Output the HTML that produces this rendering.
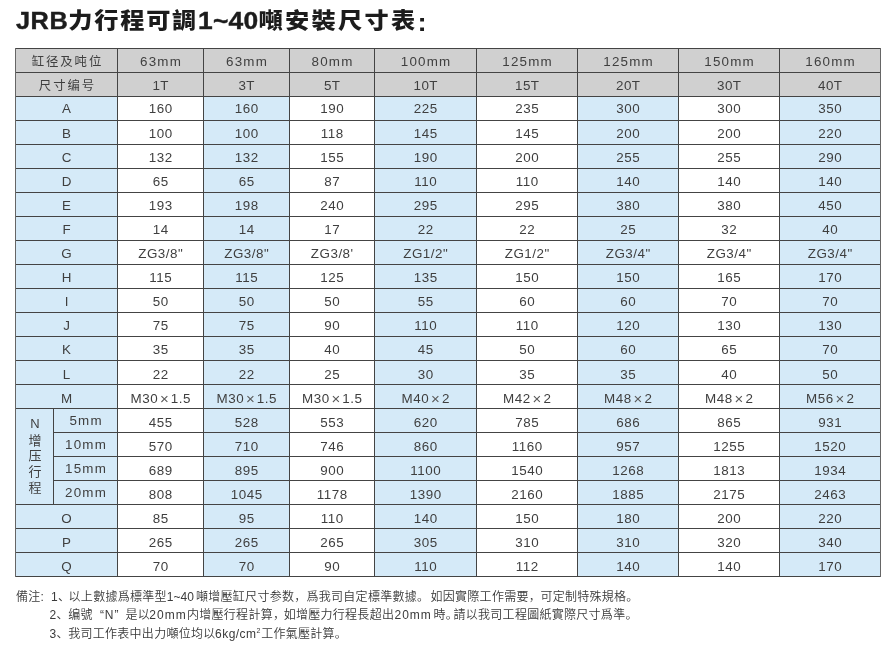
<!DOCTYPE html>
<html lang="zh"><head><meta charset="utf-8"><title>JRB</title>
<style>
html,body{margin:0;padding:0;background:#fff;}
body{width:892px;height:647px;position:relative;overflow:hidden;font-family:"Liberation Sans","Noto Sans CJK SC",sans-serif;color:#3f3f3f;}
.t{position:absolute;left:16px;top:5px;font-size:22px;font-weight:900;color:#1c1c1c;white-space:nowrap;line-height:30px;transform:scaleX(1.1);transform-origin:0 0;}
.t .l{font-size:23px;letter-spacing:0.5px;-webkit-text-stroke:0.4px #1c1c1c;}
.t .z{letter-spacing:1.6px;position:relative;top:-1px;}
.t .y{letter-spacing:2.1px;position:relative;top:-1px;}
.t .d{font-size:24px;letter-spacing:0.2px;-webkit-text-stroke:0.4px #1c1c1c;}
.t .q{position:relative;top:2px;left:0px;font-size:25px;}
.bg{position:absolute;}
.c{position:absolute;height:24px;line-height:25px;text-align:center;font-size:13.4px;white-space:nowrap;letter-spacing:0.5px;text-indent:0.5px;}
.k{font-size:12.4px;letter-spacing:1.9px;text-indent:1.9px;}
.m{letter-spacing:1.2px;text-indent:1.2px;}
.x{font-size:15px;line-height:0;position:relative;top:0.5px;margin:0 2.2px 0 1.8px;letter-spacing:0;color:#5a5a5a;}
.h{position:absolute;height:1px;background:#444;}
.v{position:absolute;width:1px;background:#444;}
.s{position:absolute;font-size:12px;line-height:18px;white-space:nowrap;letter-spacing:0.28px;color:#3a3a3a;font-weight:350;}
.e{letter-spacing:0;}
.f{letter-spacing:1px;}
.g{letter-spacing:0.45px;}
.nv{position:absolute;left:16px;width:38px;text-align:center;font-size:13px;line-height:16px;height:16px;}
sup{font-size:7px;line-height:0;vertical-align:5px;letter-spacing:0;}
</style></head><body>
<div class="t"><span class="l">JRB</span><span class="z">力行程可調</span><span class="d">1~40</span><span class="y">噸安裝尺寸表</span><span class="q">:</span></div>
<div class="bg" style="left:15px;top:48px;width:865px;height:48px;background:#d0d0d0"></div>
<div class="bg" style="left:15px;top:96px;width:102px;height:480px;background:#d5eaf8"></div>
<div class="bg" style="left:203px;top:96px;width:86px;height:480px;background:#d5eaf8"></div>
<div class="bg" style="left:374px;top:96px;width:102px;height:480px;background:#d5eaf8"></div>
<div class="bg" style="left:577px;top:96px;width:101px;height:480px;background:#d5eaf8"></div>
<div class="bg" style="left:779px;top:96px;width:101px;height:480px;background:#d5eaf8"></div>
<div class="c k" style="left:16px;top:50px;width:101px">缸径及吨位</div>
<div class="c m" style="left:118px;top:49px;width:85px">63mm</div>
<div class="c m" style="left:204px;top:49px;width:85px">63mm</div>
<div class="c m" style="left:290px;top:49px;width:84px">80mm</div>
<div class="c m" style="left:375px;top:49px;width:101px">100mm</div>
<div class="c m" style="left:477px;top:49px;width:100px">125mm</div>
<div class="c m" style="left:578px;top:49px;width:100px">125mm</div>
<div class="c m" style="left:679px;top:49px;width:100px">150mm</div>
<div class="c m" style="left:780px;top:49px;width:100px">160mm</div>
<div class="c k" style="left:16px;top:74px;width:101px">尺寸编号</div>
<div class="c" style="left:118px;top:73px;width:85px">1T</div>
<div class="c" style="left:204px;top:73px;width:85px">3T</div>
<div class="c" style="left:290px;top:73px;width:84px">5T</div>
<div class="c" style="left:375px;top:73px;width:101px">10T</div>
<div class="c" style="left:477px;top:73px;width:100px">15T</div>
<div class="c" style="left:578px;top:73px;width:100px">20T</div>
<div class="c" style="left:679px;top:73px;width:100px">30T</div>
<div class="c" style="left:780px;top:73px;width:100px">40T</div>
<div class="c" style="left:16px;top:96px;width:101px">A</div>
<div class="c" style="left:118px;top:96px;width:85px">160</div>
<div class="c" style="left:204px;top:96px;width:85px">160</div>
<div class="c" style="left:290px;top:96px;width:84px">190</div>
<div class="c" style="left:375px;top:96px;width:101px">225</div>
<div class="c" style="left:477px;top:96px;width:100px">235</div>
<div class="c" style="left:578px;top:96px;width:100px">300</div>
<div class="c" style="left:679px;top:96px;width:100px">300</div>
<div class="c" style="left:780px;top:96px;width:100px">350</div>
<div class="c" style="left:16px;top:121px;width:101px">B</div>
<div class="c" style="left:118px;top:121px;width:85px">100</div>
<div class="c" style="left:204px;top:121px;width:85px">100</div>
<div class="c" style="left:290px;top:121px;width:84px">118</div>
<div class="c" style="left:375px;top:121px;width:101px">145</div>
<div class="c" style="left:477px;top:121px;width:100px">145</div>
<div class="c" style="left:578px;top:121px;width:100px">200</div>
<div class="c" style="left:679px;top:121px;width:100px">200</div>
<div class="c" style="left:780px;top:121px;width:100px">220</div>
<div class="c" style="left:16px;top:145px;width:101px">C</div>
<div class="c" style="left:118px;top:145px;width:85px">132</div>
<div class="c" style="left:204px;top:145px;width:85px">132</div>
<div class="c" style="left:290px;top:145px;width:84px">155</div>
<div class="c" style="left:375px;top:145px;width:101px">190</div>
<div class="c" style="left:477px;top:145px;width:100px">200</div>
<div class="c" style="left:578px;top:145px;width:100px">255</div>
<div class="c" style="left:679px;top:145px;width:100px">255</div>
<div class="c" style="left:780px;top:145px;width:100px">290</div>
<div class="c" style="left:16px;top:169px;width:101px">D</div>
<div class="c" style="left:118px;top:169px;width:85px">65</div>
<div class="c" style="left:204px;top:169px;width:85px">65</div>
<div class="c" style="left:290px;top:169px;width:84px">87</div>
<div class="c" style="left:375px;top:169px;width:101px">110</div>
<div class="c" style="left:477px;top:169px;width:100px">110</div>
<div class="c" style="left:578px;top:169px;width:100px">140</div>
<div class="c" style="left:679px;top:169px;width:100px">140</div>
<div class="c" style="left:780px;top:169px;width:100px">140</div>
<div class="c" style="left:16px;top:193px;width:101px">E</div>
<div class="c" style="left:118px;top:193px;width:85px">193</div>
<div class="c" style="left:204px;top:193px;width:85px">198</div>
<div class="c" style="left:290px;top:193px;width:84px">240</div>
<div class="c" style="left:375px;top:193px;width:101px">295</div>
<div class="c" style="left:477px;top:193px;width:100px">295</div>
<div class="c" style="left:578px;top:193px;width:100px">380</div>
<div class="c" style="left:679px;top:193px;width:100px">380</div>
<div class="c" style="left:780px;top:193px;width:100px">450</div>
<div class="c" style="left:16px;top:217px;width:101px">F</div>
<div class="c" style="left:118px;top:217px;width:85px">14</div>
<div class="c" style="left:204px;top:217px;width:85px">14</div>
<div class="c" style="left:290px;top:217px;width:84px">17</div>
<div class="c" style="left:375px;top:217px;width:101px">22</div>
<div class="c" style="left:477px;top:217px;width:100px">22</div>
<div class="c" style="left:578px;top:217px;width:100px">25</div>
<div class="c" style="left:679px;top:217px;width:100px">32</div>
<div class="c" style="left:780px;top:217px;width:100px">40</div>
<div class="c" style="left:16px;top:241px;width:101px">G</div>
<div class="c" style="left:118px;top:241px;width:85px">ZG3/8&quot;</div>
<div class="c" style="left:204px;top:241px;width:85px">ZG3/8&quot;</div>
<div class="c" style="left:290px;top:241px;width:84px">ZG3/8'</div>
<div class="c" style="left:375px;top:241px;width:101px">ZG1/2&quot;</div>
<div class="c" style="left:477px;top:241px;width:100px">ZG1/2&quot;</div>
<div class="c" style="left:578px;top:241px;width:100px">ZG3/4&quot;</div>
<div class="c" style="left:679px;top:241px;width:100px">ZG3/4&quot;</div>
<div class="c" style="left:780px;top:241px;width:100px">ZG3/4&quot;</div>
<div class="c" style="left:16px;top:265px;width:101px">H</div>
<div class="c" style="left:118px;top:265px;width:85px">115</div>
<div class="c" style="left:204px;top:265px;width:85px">115</div>
<div class="c" style="left:290px;top:265px;width:84px">125</div>
<div class="c" style="left:375px;top:265px;width:101px">135</div>
<div class="c" style="left:477px;top:265px;width:100px">150</div>
<div class="c" style="left:578px;top:265px;width:100px">150</div>
<div class="c" style="left:679px;top:265px;width:100px">165</div>
<div class="c" style="left:780px;top:265px;width:100px">170</div>
<div class="c" style="left:16px;top:289px;width:101px">I</div>
<div class="c" style="left:118px;top:289px;width:85px">50</div>
<div class="c" style="left:204px;top:289px;width:85px">50</div>
<div class="c" style="left:290px;top:289px;width:84px">50</div>
<div class="c" style="left:375px;top:289px;width:101px">55</div>
<div class="c" style="left:477px;top:289px;width:100px">60</div>
<div class="c" style="left:578px;top:289px;width:100px">60</div>
<div class="c" style="left:679px;top:289px;width:100px">70</div>
<div class="c" style="left:780px;top:289px;width:100px">70</div>
<div class="c" style="left:16px;top:313px;width:101px">J</div>
<div class="c" style="left:118px;top:313px;width:85px">75</div>
<div class="c" style="left:204px;top:313px;width:85px">75</div>
<div class="c" style="left:290px;top:313px;width:84px">90</div>
<div class="c" style="left:375px;top:313px;width:101px">110</div>
<div class="c" style="left:477px;top:313px;width:100px">110</div>
<div class="c" style="left:578px;top:313px;width:100px">120</div>
<div class="c" style="left:679px;top:313px;width:100px">130</div>
<div class="c" style="left:780px;top:313px;width:100px">130</div>
<div class="c" style="left:16px;top:337px;width:101px">K</div>
<div class="c" style="left:118px;top:337px;width:85px">35</div>
<div class="c" style="left:204px;top:337px;width:85px">35</div>
<div class="c" style="left:290px;top:337px;width:84px">40</div>
<div class="c" style="left:375px;top:337px;width:101px">45</div>
<div class="c" style="left:477px;top:337px;width:100px">50</div>
<div class="c" style="left:578px;top:337px;width:100px">60</div>
<div class="c" style="left:679px;top:337px;width:100px">65</div>
<div class="c" style="left:780px;top:337px;width:100px">70</div>
<div class="c" style="left:16px;top:362px;width:101px">L</div>
<div class="c" style="left:118px;top:362px;width:85px">22</div>
<div class="c" style="left:204px;top:362px;width:85px">22</div>
<div class="c" style="left:290px;top:362px;width:84px">25</div>
<div class="c" style="left:375px;top:362px;width:101px">30</div>
<div class="c" style="left:477px;top:362px;width:100px">35</div>
<div class="c" style="left:578px;top:362px;width:100px">35</div>
<div class="c" style="left:679px;top:362px;width:100px">40</div>
<div class="c" style="left:780px;top:362px;width:100px">50</div>
<div class="c" style="left:16px;top:386px;width:101px">M</div>
<div class="c" style="left:118px;top:386px;width:85px">M30<span class="x">×</span>1.5</div>
<div class="c" style="left:204px;top:386px;width:85px">M30<span class="x">×</span>1.5</div>
<div class="c" style="left:290px;top:386px;width:84px">M30<span class="x">×</span>1.5</div>
<div class="c" style="left:375px;top:386px;width:101px">M40<span class="x">×</span>2</div>
<div class="c" style="left:477px;top:386px;width:100px">M42<span class="x">×</span>2</div>
<div class="c" style="left:578px;top:386px;width:100px">M48<span class="x">×</span>2</div>
<div class="c" style="left:679px;top:386px;width:100px">M48<span class="x">×</span>2</div>
<div class="c" style="left:780px;top:386px;width:100px">M56<span class="x">×</span>2</div>
<div class="c m" style="left:54px;top:408px;width:63px">5mm</div>
<div class="c" style="left:118px;top:410px;width:85px">455</div>
<div class="c" style="left:204px;top:410px;width:85px">528</div>
<div class="c" style="left:290px;top:410px;width:84px">553</div>
<div class="c" style="left:375px;top:410px;width:101px">620</div>
<div class="c" style="left:477px;top:410px;width:100px">785</div>
<div class="c" style="left:578px;top:410px;width:100px">686</div>
<div class="c" style="left:679px;top:410px;width:100px">865</div>
<div class="c" style="left:780px;top:410px;width:100px">931</div>
<div class="c m" style="left:54px;top:432px;width:63px">10mm</div>
<div class="c" style="left:118px;top:434px;width:85px">570</div>
<div class="c" style="left:204px;top:434px;width:85px">710</div>
<div class="c" style="left:290px;top:434px;width:84px">746</div>
<div class="c" style="left:375px;top:434px;width:101px">860</div>
<div class="c" style="left:477px;top:434px;width:100px">1160</div>
<div class="c" style="left:578px;top:434px;width:100px">957</div>
<div class="c" style="left:679px;top:434px;width:100px">1255</div>
<div class="c" style="left:780px;top:434px;width:100px">1520</div>
<div class="c m" style="left:54px;top:456px;width:63px">15mm</div>
<div class="c" style="left:118px;top:458px;width:85px">689</div>
<div class="c" style="left:204px;top:458px;width:85px">895</div>
<div class="c" style="left:290px;top:458px;width:84px">900</div>
<div class="c" style="left:375px;top:458px;width:101px">1100</div>
<div class="c" style="left:477px;top:458px;width:100px">1540</div>
<div class="c" style="left:578px;top:458px;width:100px">1268</div>
<div class="c" style="left:679px;top:458px;width:100px">1813</div>
<div class="c" style="left:780px;top:458px;width:100px">1934</div>
<div class="c m" style="left:54px;top:480px;width:63px">20mm</div>
<div class="c" style="left:118px;top:482px;width:85px">808</div>
<div class="c" style="left:204px;top:482px;width:85px">1045</div>
<div class="c" style="left:290px;top:482px;width:84px">1178</div>
<div class="c" style="left:375px;top:482px;width:101px">1390</div>
<div class="c" style="left:477px;top:482px;width:100px">2160</div>
<div class="c" style="left:578px;top:482px;width:100px">1885</div>
<div class="c" style="left:679px;top:482px;width:100px">2175</div>
<div class="c" style="left:780px;top:482px;width:100px">2463</div>
<div class="c" style="left:16px;top:506px;width:101px">O</div>
<div class="c" style="left:118px;top:506px;width:85px">85</div>
<div class="c" style="left:204px;top:506px;width:85px">95</div>
<div class="c" style="left:290px;top:506px;width:84px">110</div>
<div class="c" style="left:375px;top:506px;width:101px">140</div>
<div class="c" style="left:477px;top:506px;width:100px">150</div>
<div class="c" style="left:578px;top:506px;width:100px">180</div>
<div class="c" style="left:679px;top:506px;width:100px">200</div>
<div class="c" style="left:780px;top:506px;width:100px">220</div>
<div class="c" style="left:16px;top:530px;width:101px">P</div>
<div class="c" style="left:118px;top:530px;width:85px">265</div>
<div class="c" style="left:204px;top:530px;width:85px">265</div>
<div class="c" style="left:290px;top:530px;width:84px">265</div>
<div class="c" style="left:375px;top:530px;width:101px">305</div>
<div class="c" style="left:477px;top:530px;width:100px">310</div>
<div class="c" style="left:578px;top:530px;width:100px">310</div>
<div class="c" style="left:679px;top:530px;width:100px">320</div>
<div class="c" style="left:780px;top:530px;width:100px">340</div>
<div class="c" style="left:16px;top:554px;width:101px">Q</div>
<div class="c" style="left:118px;top:554px;width:85px">70</div>
<div class="c" style="left:204px;top:554px;width:85px">70</div>
<div class="c" style="left:290px;top:554px;width:84px">90</div>
<div class="c" style="left:375px;top:554px;width:101px">110</div>
<div class="c" style="left:477px;top:554px;width:100px">112</div>
<div class="c" style="left:578px;top:554px;width:100px">140</div>
<div class="c" style="left:679px;top:554px;width:100px">140</div>
<div class="c" style="left:780px;top:554px;width:100px">170</div>
<div class="nv" style="top:416px">N</div>
<div class="nv" style="top:433px">增</div>
<div class="nv" style="top:448px">压</div>
<div class="nv" style="top:464px">行</div>
<div class="nv" style="top:480px">程</div>
<div class="h" style="left:15px;top:48px;width:866px"></div>
<div class="h" style="left:15px;top:72px;width:866px"></div>
<div class="h" style="left:15px;top:96px;width:866px"></div>
<div class="h" style="left:15px;top:120px;width:866px"></div>
<div class="h" style="left:15px;top:144px;width:866px"></div>
<div class="h" style="left:15px;top:168px;width:866px"></div>
<div class="h" style="left:15px;top:192px;width:866px"></div>
<div class="h" style="left:15px;top:216px;width:866px"></div>
<div class="h" style="left:15px;top:240px;width:866px"></div>
<div class="h" style="left:15px;top:264px;width:866px"></div>
<div class="h" style="left:15px;top:288px;width:866px"></div>
<div class="h" style="left:15px;top:312px;width:866px"></div>
<div class="h" style="left:15px;top:336px;width:866px"></div>
<div class="h" style="left:15px;top:360px;width:866px"></div>
<div class="h" style="left:15px;top:384px;width:866px"></div>
<div class="h" style="left:15px;top:408px;width:866px"></div>
<div class="h" style="left:53px;top:432px;width:828px"></div>
<div class="h" style="left:53px;top:456px;width:828px"></div>
<div class="h" style="left:53px;top:480px;width:828px"></div>
<div class="h" style="left:15px;top:504px;width:866px"></div>
<div class="h" style="left:15px;top:528px;width:866px"></div>
<div class="h" style="left:15px;top:552px;width:866px"></div>
<div class="h" style="left:15px;top:576px;width:866px"></div>
<div class="v" style="left:15px;top:48px;height:529px;background:#666"></div>
<div class="v" style="left:117px;top:48px;height:529px"></div>
<div class="v" style="left:203px;top:48px;height:529px"></div>
<div class="v" style="left:289px;top:48px;height:529px"></div>
<div class="v" style="left:374px;top:48px;height:529px"></div>
<div class="v" style="left:476px;top:48px;height:529px"></div>
<div class="v" style="left:577px;top:48px;height:529px"></div>
<div class="v" style="left:678px;top:48px;height:529px"></div>
<div class="v" style="left:779px;top:48px;height:529px"></div>
<div class="v" style="left:880px;top:48px;height:529px;background:#666"></div>
<div class="v" style="left:53px;top:408px;height:96px"></div>
<span class="s" style="left:16px;top:588px">備注:</span>
<span class="s" style="left:51px;top:588px">1、</span>
<span class="s" style="left:68.6px;top:588px">以上數據爲標準型</span>
<span class="s e" style="left:166.8px;top:588px">1~40</span>
<span class="s" style="left:196px;top:588px">噸增壓缸尺寸参数，</span>
<span class="s" style="left:306.5px;top:588px">爲我司自定標準數據。</span>
<span class="s" style="left:430.5px;top:588px">如因實際工作需要，</span>
<span class="s" style="left:540.4px;top:588px">可定制特殊規格。</span>
<span class="s" style="left:49.5px;top:606px">2、</span>
<span class="s" style="left:68.2px;top:606px">编號</span>
<span class="s e" style="left:99.9px;top:606px">“</span>
<span class="s e" style="left:104.7px;top:606px">N</span>
<span class="s e" style="left:114.4px;top:606px">”</span>
<span class="s" style="left:125.5px;top:606px">是以</span>
<span class="s f" style="left:149.3px;top:606px">20mm</span>
<span class="s" style="left:187px;top:606px">内增壓行程計算，</span>
<span class="s" style="left:283.7px;top:606px">如增壓力行程長超出</span>
<span class="s f" style="left:394.5px;top:606px">20mm</span>
<span class="s" style="left:433.5px;top:606px">時。</span>
<span class="s" style="left:453.5px;top:606px">請以我司工程圖紙實際尺寸爲準。</span>
<span class="s" style="left:49.5px;top:625px">3、</span>
<span class="s" style="left:68.2px;top:625px">我司工作表中出力噸位均以</span>
<span class="s g" style="left:215.1px;top:625px">6kg/cm<sup>2</sup></span>
<span class="s" style="left:261.2px;top:625px">工作氣壓計算。</span>
</body></html>
